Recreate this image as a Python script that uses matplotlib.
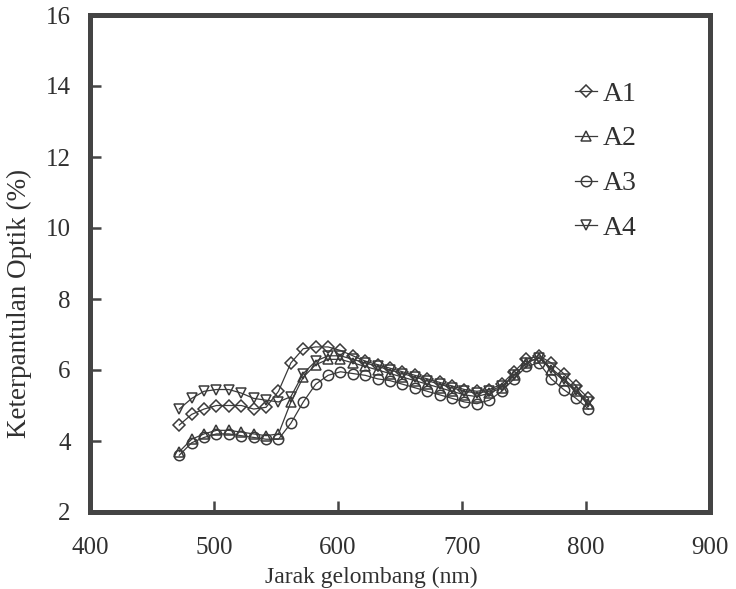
import matplotlib
matplotlib.use("Agg")
import matplotlib.pyplot as plt
from matplotlib.lines import Line2D

# Wavelength grid (nm)
wavelength = [472, 482, 492, 502, 512, 522, 532, 542, 552, 562, 572, 582,
              592, 602, 612, 622, 632, 642, 652, 662, 672, 682, 692, 702,
              712, 722, 732, 742, 752, 762, 772, 782, 792, 802]

# Optical reflectance (%) per sample
a1 = [4.45, 4.75, 4.9, 5.0, 5.0, 5.0, 4.9, 4.95, 5.4, 6.2, 6.6, 6.65,
      6.65, 6.55, 6.4, 6.25, 6.15, 6.05, 5.95, 5.85, 5.75, 5.65, 5.55, 5.45,
      5.4, 5.45, 5.6, 5.95, 6.3, 6.4, 6.2, 5.9, 5.55, 5.2]
a2 = [3.7, 4.05, 4.2, 4.3, 4.3, 4.25, 4.2, 4.15, 4.2, 5.1, 5.8, 6.15,
      6.3, 6.3, 6.2, 6.1, 6.0, 5.9, 5.8, 5.7, 5.6, 5.5, 5.4, 5.3,
      5.25, 5.35, 5.5, 5.85, 6.2, 6.35, 6.0, 5.7, 5.4, 5.05]
a3 = [3.6, 3.95, 4.1, 4.2, 4.2, 4.15, 4.1, 4.05, 4.05, 4.5, 5.1, 5.6,
      5.85, 5.95, 5.9, 5.85, 5.75, 5.7, 5.6, 5.5, 5.4, 5.3, 5.2, 5.1,
      5.05, 5.15, 5.4, 5.75, 6.1, 6.2, 5.75, 5.45, 5.2, 4.9]
a4 = [4.9, 5.2, 5.4, 5.45, 5.45, 5.35, 5.2, 5.15, 5.1, 5.25, 5.9, 6.25,
      6.4, 6.4, 6.3, 6.2, 6.1, 6.0, 5.9, 5.8, 5.7, 5.6, 5.5, 5.4,
      5.35, 5.4, 5.55, 5.85, 6.2, 6.35, 6.05, 5.75, 5.45, 5.1]

series = [("A1", a1, "D"), ("A2", a2, "^"), ("A3", a3, "o"), ("A4", a4, "v")]

x_ticks = [400, 500, 600, 700, 800, 900]
y_ticks = [2, 4, 6, 8, 10, 12, 14, 16]

ink = "#3a3a3a"
text_col = "#303030"
plt.rcParams["font.family"] = ["Liberation Serif", "DejaVu Serif"]


def marker_style(mk):
    return dict(marker=mk, ms=6.5 if mk == "D" else 7.5, mfc="none",
                mec=ink, mew=1.1)


fig = plt.figure(figsize=(7.36, 5.89), dpi=100)
ax = fig.add_axes([90 / 736, 1 - 512 / 589, (710 - 90) / 736, (512 - 15) / 589])

for name, vals, mk in series:
    ax.plot(wavelength, vals, color=ink, lw=0.9, **marker_style(mk))

ax.set_xlim(400, 900)
ax.set_ylim(2, 16)
ax.set_xticks(x_ticks)
ax.set_yticks(y_ticks)
ax.tick_params(direction="in", length=8, width=1.8, color="#444444",
               labelsize=18, labelcolor=text_col, top=False, right=False)
ax.tick_params(axis="x", pad=18)
ax.tick_params(axis="y", pad=14)
for s in ax.spines.values():
    s.set_linewidth(3.6)
    s.set_color("#444444")

ax.set_xlabel("Jarak gelombang (nm)", fontsize=17, color=text_col)
ax.xaxis.set_label_coords(0.453, -0.110)
ax.set_ylabel("Keterpantulan Optik (%)", fontsize=19.5, color=text_col)
ax.yaxis.set_label_coords(-0.094, 0.42)

handles = [Line2D([], [], color=ink, lw=0.9, **marker_style(mk))
           for _, _, mk in series]
ax.legend(handles, [s[0] for s in series], loc="upper left",
          bbox_to_anchor=(0.760, 0.895), borderpad=0, frameon=False,
          handlelength=0.8, handletextpad=0.2, labelspacing=0.7,
          fontsize=20, labelcolor=text_col)

fig.savefig("out.png", dpi=100, facecolor="white")
